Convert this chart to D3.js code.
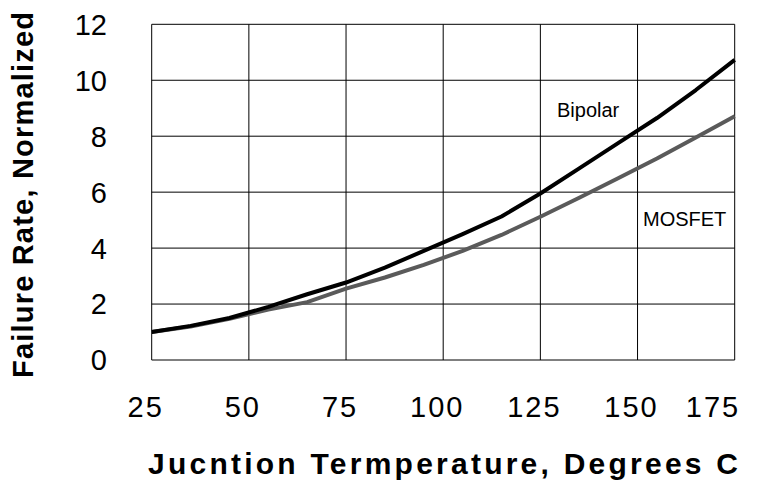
<!DOCTYPE html>
<html><head><meta charset="utf-8">
<script src="https://cdn.jsdelivr.net/npm/d3@7/dist/d3.min.js"></script>
<style>body{margin:0;background:#fff}svg{display:block}text{font-family:"Liberation Sans",Arial,sans-serif}</style>
</head><body><svg id="c" width="759" height="481"></svg>
<script>
const temps = [25,35,45,55,65,75,85,95,105,115,125,135,145,155,165,175];
const bipolar = [1.0,1.22,1.5,1.9,2.35,2.77,3.3,3.9,4.5,5.13,5.95,6.85,7.75,8.65,9.65,10.73];
const mosfet  = [1.0,1.2,1.47,1.8,2.07,2.55,2.95,3.4,3.9,4.47,5.12,5.8,6.5,7.2,7.95,8.71];
const xTicks = [25,50,75,100,125,150,175];
const yTicks = [0,2,4,6,8,10,12];
const xTitle = "Jucntion Termperature, Degrees C";
const yTitle = "Failure Rate, Normalized";
const seriesLabels = ["Bipolar","MOSFET"];

const svg = d3.select("#c");
const x = d3.scaleLinear().domain([25,175]).range([151.7,734.7]);
const y = d3.scaleLinear().domain([0,12]).range([360,24.3]);

const g = svg.append("g");
g.selectAll("line.v").data(xTicks).join("line")
  .attr("x1",d=>x(d)).attr("x2",d=>x(d)).attr("y1",y(0)).attr("y2",y(12))
  .attr("stroke","#000").attr("stroke-width",1);
g.selectAll("line.h").data(yTicks).join("line")
  .attr("y1",d=>y(d)).attr("y2",d=>y(d)).attr("x1",x(25)).attr("x2",x(175))
  .attr("stroke","#000").attr("stroke-width",1);

g.selectAll("text.yt").data(yTicks).join("text")
  .attr("x",107).attr("y",d=>y(d)).attr("dy","0.36em")
  .attr("text-anchor","end").attr("font-size",29).text(d=>d);
g.selectAll("text.xt").data(xTicks).join("text")
  .attr("x",d=>Math.min(x(d)-6,713)).attr("y",417)
  .attr("text-anchor","middle").attr("font-size",29).attr("letter-spacing",2).text(d=>d);

const line = d3.line().x((d,i)=>x(temps[i])).y(d=>y(d));
g.append("path").datum(mosfet).attr("d",line).attr("fill","none")
  .attr("stroke","#5a5a5a").attr("stroke-width",4).attr("stroke-linejoin","round");
g.append("path").datum(bipolar).attr("d",line).attr("fill","none")
  .attr("stroke","#000").attr("stroke-width",4).attr("stroke-linejoin","round");

g.append("text").attr("x",557).attr("y",117).attr("font-size",20).text(seriesLabels[0]);
g.append("text").attr("x",643).attr("y",226).attr("font-size",20).text(seriesLabels[1]);

g.append("text").attr("x",443).attr("y",474).attr("text-anchor","middle")
  .attr("font-size",30).attr("font-weight","bold")
  .attr("textLength",590).attr("lengthAdjust","spacing").text(xTitle);
g.append("text").attr("transform","translate(33,195) rotate(-90)").attr("text-anchor","middle")
  .attr("font-size",29).attr("font-weight","bold")
  .attr("textLength",366).attr("lengthAdjust","spacing").text(yTitle);
</script></body></html>
